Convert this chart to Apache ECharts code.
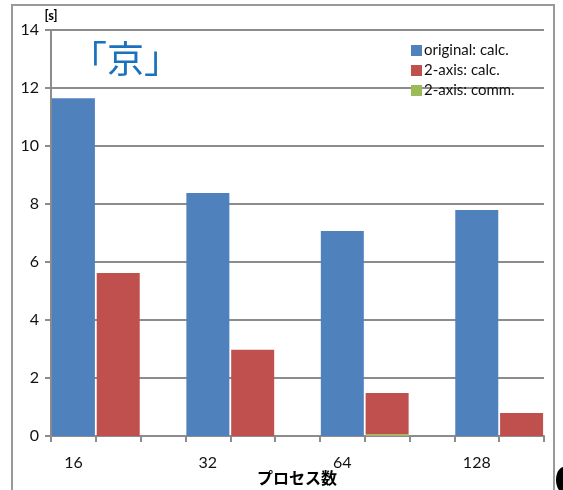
<!DOCTYPE html>
<html>
<head>
<meta charset="utf-8">
<script src="https://cdn.jsdelivr.net/npm/echarts@6/dist/echarts.min.js"></script>
<style>
  html, body { margin: 0; padding: 0; background: #fff; }
  #chart { width: 563px; height: 490px; }
</style>
</head>
<body>
<div id="chart"></div>
<script>
// slots on the x axis: blue, red, empty, blue, red, empty, ...
var slots = ['16', '', '', '32', '', '', '64', '', '', '128', ''];
var origCalc = [11.65, '-', '-', 8.38, '-', '-', 7.07, '-', '-', 7.79, '-'];
var axisCalc = ['-', 5.62, '-', '-', 2.97, '-', '-', 1.42, '-', '-', 0.79];
var axisComm = ['-', 0, '-', '-', 0, '-', '-', 0.06, '-', '-', 0];
var yTicks = [0, 2, 4, 6, 8, 10, 12, 14];
var xName = 'プロセス数';

var font = 'Lato, "Noto Sans", sans-serif';
var gray = '#8c8c8c';

var myChart = echarts.init(document.getElementById('chart'));

option = {
    animation: false,
    textStyle: { fontFamily: font },
    grid: {
        left: 51,
        right: 19,
        top: 30,
        bottom: 54,
        outerBoundsMode: 'none'
    },
    legend: {
        orient: 'vertical',
        left: 406,
        top: 38,
        itemWidth: 11,
        itemHeight: 11,
        itemGap: 5,
        icon: 'rect',
        textStyle: { fontSize: 15, color: '#111', fontFamily: font, padding: [0, 0, 0, -3] },
        data: ['original: calc.', '2-axis: calc.', '2-axis: comm.']
    },
    xAxis: {
        type: 'category',
        data: slots,
        axisLine: { lineStyle: { color: gray, width: 2 } },
        axisTick: { show: true, interval: 0, length: 6, lineStyle: { color: gray, width: 2 } },
        axisLabel: { interval: 0, fontSize: 16, color: '#111', margin: 19 }
    },
    yAxis: {
        type: 'value',
        min: 0,
        max: 14,
        interval: 2,
        name: '[s]',
        nameLocation: 'end',
        nameGap: 5,
        nameTextStyle: { fontSize: 13, fontWeight: 'bold', color: '#000', align: 'center' },
        axisLine: { show: true, lineStyle: { color: gray, width: 2 } },
        axisTick: { show: true, length: 6, lineStyle: { color: gray, width: 2 } },
        axisLabel: {
            fontSize: 16,
            color: '#111',
            margin: 12,
            formatter: function (v) { return yTicks.indexOf(v) >= 0 ? String(v) : ''; }
        },
        splitLine: { lineStyle: { color: gray, width: 2 } }
    },
    series: [
        {
            name: 'original: calc.',
            type: 'bar',
            data: origCalc,
            barWidth: 43,
            barGap: '-100%',
            itemStyle: { color: '#4f81bd' }
        },
        {
            name: '2-axis: comm.',
            type: 'bar',
            stack: 'axis',
            data: axisComm,
            barWidth: 43,
            itemStyle: { color: '#9bbb59' }
        },
        {
            name: '2-axis: calc.',
            type: 'bar',
            stack: 'axis',
            data: axisCalc,
            barWidth: 43,
            itemStyle: { color: '#c0504d' }
        }
    ],
    graphic: [
        {
            type: 'rect',
            shape: { x: 12, y: 5, width: 542, height: 520 },
            style: { fill: 'none', stroke: '#999', lineWidth: 2 },
            z: -1
        },
        {
            type: 'text',
            x: 297,
            y: 478,
            style: {
                text: xName,
                fill: '#000',
                font: 'bold 16px "Noto Sans CJK JP"',
                align: 'center',
                verticalAlign: 'middle'
            }
        },
        {
            type: 'text',
            left: 70,
            top: 40,
            style: {
                text: '「京」',
                fill: '#1a72bf',
                font: '37px "Noto Sans CJK JP"'
            }
        },
        {
            type: 'ellipse',
            shape: { cx: 564, cy: 480, rx: 8, ry: 13 },
            style: { fill: '#000' }
        }
    ]
};

myChart.setOption(option);
</script>
</body>
</html>
